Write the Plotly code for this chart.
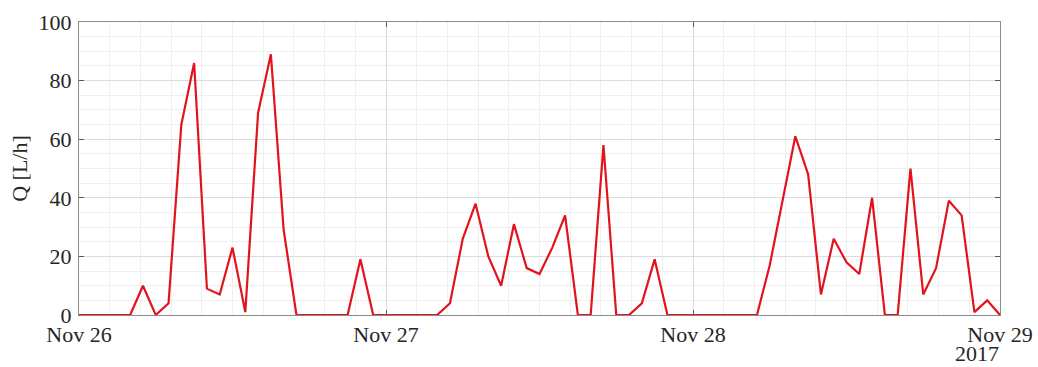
import pandas as pd
import plotly.graph_objects as go

# Hourly flow values, Nov 26 00:00 .. Nov 29 00:00, 2017
start_time = "2017-11-26 00:00"
flow_lph = [
    0, 0, 0, 0, 0, 10, 0, 4, 65, 86, 9, 7, 23, 1, 69, 89, 29,
    0, 0, 0, 0, 0, 19,
    0, 0, 0, 0, 0, 0,
    4, 26, 38, 20, 10, 31, 16, 14, 23, 34, 0, 0, 58, 0, 0, 4, 19,
    0, 0, 0, 0, 0, 0, 0, 0,
    17, 39, 61, 48, 7, 26, 18, 14, 40, 0, 0, 50, 7, 16, 39, 34, 1, 5, 0,
]
x_tick_dates = ["2017-11-26", "2017-11-27", "2017-11-28", "2017-11-29"]
x_tick_labels = ["Nov 26", "Nov 27", "Nov 28", "Nov 29"]
year_label = "2017"
y_ticks = [0, 20, 40, 60, 80, 100]
y_title = "Q [L/h]"

times = pd.date_range(start_time, periods=len(flow_lph), freq="h")

FONT = "Liberation Serif"
FS = 22
TXT = "#262626"
AX = "#8a8a8a"

fig = go.Figure()
fig.add_trace(go.Scatter(
    x=times, y=flow_lph, mode="lines",
    line=dict(color="#e3131b", width=2.2),
    showlegend=False, hoverinfo="x+y",
))

fig.update_layout(
    width=1038, height=367,
    margin=dict(l=79, r=38, t=22, b=52, autoexpand=False),
    paper_bgcolor="white", plot_bgcolor="white",
    font=dict(family=FONT, size=FS, color=TXT),
)

fig.update_xaxes(
    type="date", automargin=False,
    range=[x_tick_dates[0], x_tick_dates[-1]],
    tickvals=x_tick_dates, ticktext=x_tick_labels,
    ticks="inside", ticklen=5, tickcolor="#555555", tickwidth=1,
    showline=True, linecolor=AX, linewidth=1, mirror="ticks",
    showgrid=True, gridcolor="#dcdcdc", gridwidth=1,
    minor=dict(dtick=8640000, tick0=x_tick_dates[0], showgrid=True,
               gridcolor="#efefef", gridwidth=1, ticks=""),
    zeroline=False,
    ticklabelstandoff=0,
    ticklabeloverflow="allow",
    tickfont=dict(family=FONT, size=FS, color=TXT),
)

fig.update_yaxes(
    automargin=False,
    range=[0, 100],
    tickvals=y_ticks,
    ticks="inside", ticklen=5, tickcolor="#555555", tickwidth=1,
    showline=True, linecolor=AX, linewidth=1, mirror="ticks",
    showgrid=True, gridcolor="#dcdcdc", gridwidth=1,
    minor=dict(dtick=5, showgrid=True, gridcolor="#efefef", gridwidth=1, ticks=""),
    zeroline=False,
    ticklabelstandoff=2,
    title=dict(text=y_title, font=dict(family=FONT, size=FS, color=TXT), standoff=4),
    tickfont=dict(family=FONT, size=FS, color=TXT),
)

fig.add_annotation(
    text=year_label, xref="paper", yref="paper",
    x=1.0, y=-0.13, xanchor="right", yanchor="middle",
    showarrow=False, borderpad=0,
    font=dict(family=FONT, size=FS, color=TXT),
)

# remove the default 8px page margin so the figure fills the window exactly
fig.write_html(
    "out.html",
    config={"displayModeBar": False},
    post_script="document.body.style.margin='0';document.body.style.overflow='hidden';",
)
